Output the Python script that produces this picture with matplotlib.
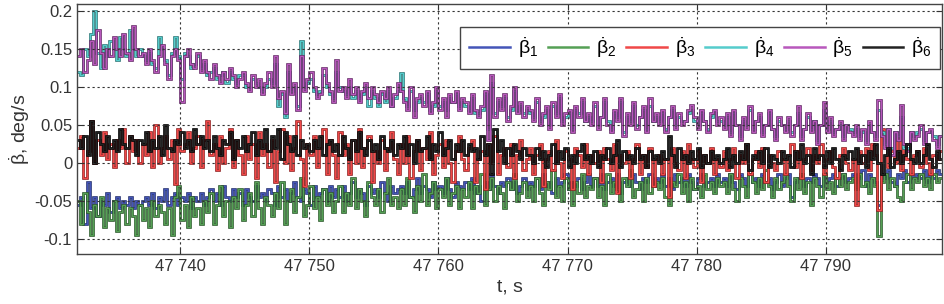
import numpy as np
import matplotlib
matplotlib.use('Agg')
import matplotlib.pyplot as plt
import matplotlib.patheffects as pe

plt.rcParams['font.family'] = ['Liberation Sans', 'DejaVu Sans']
plt.rcParams['mathtext.fontset'] = 'custom'
plt.rcParams['mathtext.rm'] = 'Liberation Sans'
plt.rcParams['mathtext.it'] = 'Liberation Sans'

# time grid: samples every 0.25 s starting at t0
t0 = 47732.0
dt = 0.25

# angular rates, in 1e-3 deg/s (20 samples = 5 s per row)
b1 = [-55,-45,-80,-25,-60,-45,-70,-50,-55,-40,-65,-50,-45,-60,-50,-55,-45,-60,-50,-55,
      -50,-45,-55,-40,-60,-45,-50,-35,-55,-45,-40,-55,-45,-50,-40,-60,-45,-50,-40,-55,
      -45,-35,-50,-40,-55,-30,-45,-50,-35,-45,-40,-55,-35,-45,-50,-30,-45,-40,-50,-35,
      -40,-55,-30,-45,-35,-50,-40,-25,-45,-50,-35,-40,-55,-30,-45,-40,-35,-50,-30,-45,
      -35,-45,-30,-50,-40,-25,-45,-35,-40,-55,-30,-40,-35,-45,-25,-40,-50,-30,-40,-35,
      -30,-40,-25,-45,-35,-20,-40,-30,-35,-45,-25,-35,-30,-40,-20,-35,-45,-25,-30,-35,
      -25,-35,-20,-40,-30,-50,-25,-35,-15,-30,-40,-25,-30,-20,-35,-25,-40,-30,-20,-35,
      -25,-30,-20,-35,-15,-30,-25,-40,-20,-30,-25,-15,-35,-25,-30,-20,-35,-25,-15,-30,
      -20,-30,-15,-35,-25,-20,-30,-15,-40,-25,-20,-30,-15,-25,-35,-20,-25,-15,-30,-20,
      -25,-15,-30,-20,-35,-15,-25,-20,-30,-15,-25,-35,-20,-15,-30,-25,-20,-30,-15,-25,
      -20,-30,-15,-25,-35,-15,-20,-30,-15,-25,-20,-30,-15,-25,-20,-35,-25,-15,-30,-20,
      -15,-45,-25,-20,-15,-30,-20,-25,-15,-20,-30,-15,-25,-20,-15,-30,-20,-15,-25,-20,
      -15,-25,-20,-10,-30,-15,-20,-25,-55,-15,-20,-10,-25,-30,-15,-20,-10,-25,-15,-20,
      -15,-20,-10,-25,-15,-20,-10,-15]
b2 = [-50,-80,-40,-65,-95,-55,-70,-45,-85,-60,-75,-50,-90,-65,-55,-80,-60,-70,-95,-55,
      -75,-60,-85,-50,-70,-55,-65,-80,-60,-95,-45,-30,-75,-55,-85,-45,-70,-60,-80,-50,
      -65,-40,-80,-55,-30,-70,-50,-85,-45,-60,-35,-75,-55,-40,-70,-25,-60,-80,-45,-55,
      -70,-40,-60,-25,-80,-50,-35,-65,-45,-20,-70,-55,-30,-60,-45,-75,-35,-55,-40,-65,
      -50,-30,-65,-40,-55,-20,-60,-35,-50,-70,-25,-45,-55,-35,-65,-40,-20,-55,-45,-60,
      -35,-55,-20,-45,-65,-30,-50,-15,-55,-40,-25,-60,-35,-45,-20,-55,-40,-30,-60,-35,
      -45,-25,-60,-30,-40,-15,-55,-35,-20,-50,-30,-40,-60,-25,-35,-15,-50,-40,-25,-45,
      -30,-50,-20,-40,-55,-25,-35,-10,-45,-30,-50,-20,-35,-55,-25,-40,-15,-45,-30,-35,
      -20,-45,-30,-55,-15,-40,-25,-35,-50,-20,-30,-10,-45,-35,-25,-50,-20,-40,-30,-25,
      -35,-20,-45,-55,-25,-30,-15,-40,-25,-50,-20,-35,-30,-45,-15,-35,-25,-40,-20,-30,
      -25,-40,-15,-35,-50,-20,-30,-45,-15,-25,-40,-20,-35,-10,-30,-45,-20,-35,-25,-15,
      -30,-50,-20,-35,-15,-40,-25,-55,-20,-30,-45,-15,-35,-25,-40,-20,-30,-15,-35,-25,
      -20,-35,-15,-30,-25,-40,-20,-30,-96,-25,-15,-35,-20,-30,-45,-50,-25,-15,-35,-20,
      -25,-15,-30,-20,-35,-15,-25,-20]
b3 = [20,35,-20,15,55,0,30,10,40,5,25,-5,30,20,45,0,35,15,30,0,
      25,10,40,-5,50,0,20,35,5,30,-28,45,15,25,40,0,20,35,-5,30,
      55,10,25,-10,35,0,20,45,-5,30,10,-15,35,5,25,-20,40,10,25,-5,
      30,-25,15,45,0,35,-10,20,55,5,-30,25,10,35,-5,20,45,-15,30,10,
      -20,40,10,25,-15,30,0,45,-5,20,35,-25,15,0,30,-10,20,40,5,-15,
      25,0,35,-20,15,30,-10,20,5,40,-15,10,25,-5,30,0,-25,15,35,5,
      -10,20,30,-25,5,15,-35,25,0,35,-15,10,20,-5,25,-20,10,30,-10,5,
      20,-15,10,25,-30,5,15,-10,30,0,-20,15,5,-35,20,10,-5,25,-15,10,
      0,15,-25,20,5,-10,25,-40,10,0,15,-20,5,25,-15,10,-5,20,-30,5,
      10,-15,5,-45,20,0,-10,15,-20,25,5,-5,15,-25,10,0,20,-15,5,-5,
      15,-10,5,20,-20,10,0,25,-15,5,15,-5,20,-25,10,0,-10,15,5,-15,
      10,25,-5,15,-20,5,20,-10,10,0,25,-15,5,15,-5,-20,10,20,0,-10,
      5,-55,15,0,20,-10,25,10,-62,45,30,-5,15,0,35,-10,20,5,-15,10,
      15,-5,20,0,-15,10,5,15]
b4 = [120,115,150,140,170,200,145,125,155,140,160,150,135,165,150,140,175,150,140,150,
      140,135,145,130,125,165,150,135,115,145,165,140,110,145,140,125,130,140,125,130,
      115,120,125,110,115,120,105,120,110,105,115,115,100,100,110,105,100,95,100,110,
      105,130,75,90,60,120,95,100,75,160,100,105,110,95,90,95,115,100,90,85,
      120,100,95,90,100,85,95,85,90,100,75,95,85,75,90,80,95,75,85,95,
      118,85,75,95,70,80,85,80,90,70,75,95,75,80,70,85,80,90,75,80,
      75,70,85,65,65,70,90,45,105,65,80,75,85,60,70,95,70,75,65,70,
      65,60,80,55,60,70,50,75,65,85,55,60,65,45,70,65,80,55,60,55,
      75,50,60,80,55,45,65,60,80,40,60,55,75,50,60,70,45,75,55,60,
      55,65,45,60,70,50,60,55,55,65,70,55,50,65,55,45,60,65,55,55,
      50,60,40,65,50,35,55,50,70,45,55,60,40,50,65,45,35,55,50,45,
      55,40,50,65,35,45,60,45,55,30,50,70,45,55,40,45,50,35,50,45,
      40,45,35,40,30,50,40,35,70,40,25,45,20,40,35,60,20,20,40,35,
      40,45,30,40,40,35,25,35]
b5 = [140,150,120,135,160,130,175,145,125,150,140,165,150,140,170,145,135,180,150,140,
      145,130,150,135,120,140,155,130,110,140,150,135,80,140,150,130,125,145,120,135,
      120,110,130,115,105,120,110,125,115,100,110,120,105,95,115,100,110,90,105,120,
      100,140,85,95,65,130,90,105,70,140,95,110,120,100,85,90,125,105,95,80,
      135,95,100,85,110,90,100,80,95,105,85,100,90,80,95,85,100,75,90,105,
      95,80,70,100,60,85,90,75,95,65,80,100,70,85,60,90,80,95,70,85,
      80,65,90,70,60,75,95,30,115,60,85,70,90,55,75,100,65,80,60,75,
      70,55,85,50,65,75,45,80,60,90,50,65,70,40,75,60,85,55,65,50,
      80,45,60,85,50,40,70,55,85,35,65,50,80,45,60,75,40,85,55,65,
      50,70,40,60,75,45,65,50,55,70,76,60,45,70,55,40,65,70,50,60,
      45,65,35,70,50,30,60,45,75,40,55,65,35,50,70,45,30,60,50,40,
      60,35,50,75,30,45,65,40,55,25,50,80,40,60,35,45,55,30,50,40,
      35,50,30,45,25,55,40,30,83,35,20,45,10,40,30,76,25,15,40,30,
      35,50,25,40,45,30,20,35]
b6 = [30,20,35,10,55,0,40,25,15,35,20,30,15,45,25,20,35,30,10,30,
      25,40,15,30,20,35,10,50,20,15,30,25,40,20,30,15,45,25,35,20,
      30,15,35,20,10,30,25,40,5,30,20,35,15,25,40,10,30,20,45,15,
      35,20,45,5,40,25,15,35,10,30,20,25,15,30,20,35,10,25,30,15,
      25,10,35,20,5,30,15,40,20,10,30,15,25,5,35,20,15,30,10,25,
      20,35,10,25,0,30,15,20,35,5,25,15,40,10,20,30,5,25,15,30,
      10,25,15,20,5,35,10,25,-15,45,15,30,0,20,10,25,15,5,20,10,
      10,0,20,5,15,-5,10,25,0,15,5,20,-5,10,0,15,25,5,10,0,
      15,-5,10,5,20,0,10,30,-5,15,5,10,0,20,5,10,-5,15,5,10,
      0,15,5,35,10,-5,20,5,10,0,15,5,20,-5,10,0,15,5,10,0,
      5,20,-5,10,0,15,5,25,-10,10,5,15,0,20,-5,10,5,0,15,5,
      10,-5,15,5,25,0,10,-15,20,5,10,-5,15,0,20,5,-10,10,5,15,
      5,20,0,10,-5,15,5,25,0,-15,10,20,-5,5,15,0,10,25,5,0,
      15,0,10,25,5,-5,15,5]

series = [b1, b2, b3, b4, b5, b6]
labels = [r'$\dot{\beta}_1$', r'$\dot{\beta}_2$', r'$\dot{\beta}_3$',
          r'$\dot{\beta}_4$', r'$\dot{\beta}_5$', r'$\dot{\beta}_6$']
colors = ['#4455b8', '#55a055', '#f04848', '#55cccc', '#b858bc', '#222222']
edges_c = ['#25306a', '#2a552a', '#8a2020', '#2a7070', '#602a62', '#000000']

xticks = [47740, 47750, 47760, 47770, 47780, 47790]
yticks = [-0.1, -0.05, 0, 0.05, 0.1, 0.15, 0.2]

fig = plt.figure(figsize=(9.45, 3.04), dpi=100)
ax = fig.add_axes([77 / 945, 50 / 304, 865 / 945, 250 / 304])

for vals, lab, c, ec in zip(series, labels, colors, edges_c):
    v = np.array(vals) / 1000.0
    edges = t0 + dt * np.arange(len(v) + 1)
    ax.stairs(v, edges, baseline=None, color=c, lw=1.0, label=lab,
              path_effects=[pe.Stroke(linewidth=1.9, foreground=ec), pe.Normal()])

ax.set_xlim(47732, 47799)
ax.set_ylim(-0.12, 0.209)
ax.set_xticks(xticks)
ax.set_xticklabels(['47 %d' % (x - 47000) for x in xticks])
ax.set_yticks(yticks)
ax.set_yticklabels(['-0.1', '-0.05', '0', '0.05', '0.1', '0.15', '0.2'])
ax.grid(True, color='#333333', linestyle=(0, (2, 2.5)), lw=0.8)
ax.tick_params(direction='in', top=True, right=True, labelsize=12,
               colors='#333333', length=4)
for sp in ax.spines.values():
    sp.set_color('#444444')
    sp.set_linewidth(1.0)

ax.set_xlabel('t, s', fontsize=14, color='#333333', labelpad=3)
ax.set_ylabel(r'$\dot{\beta}$, deg/s', fontsize=14, color='#333333', labelpad=2)

leg = ax.legend(ncol=6, loc='upper right', bbox_to_anchor=(0.998, 0.91),
                borderaxespad=0, fontsize=14, handlelength=2.1,
                columnspacing=0.5, handletextpad=0.4, fancybox=False,
                framealpha=1, edgecolor='#444444', borderpad=0.45)
leg.get_frame().set_linewidth(1.0)
for h in leg.get_lines():
    h.set_path_effects([])
    h.set_linewidth(1.8)

fig.savefig('out.png', dpi=100)
